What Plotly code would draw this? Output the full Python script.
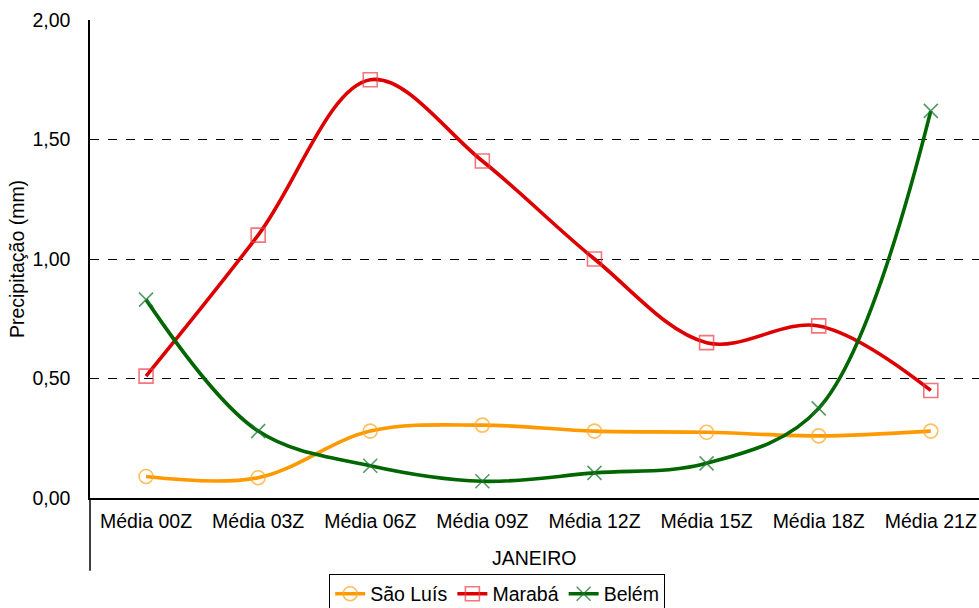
import plotly.graph_objects as go

categorias = ["Média 00Z", "Média 03Z", "Média 06Z", "Média 09Z",
              "Média 12Z", "Média 15Z", "Média 18Z", "Média 21Z"]
sao_luis = [0.09, 0.085, 0.28, 0.305, 0.28, 0.275, 0.26, 0.28]
maraba = [0.51, 1.10, 1.75, 1.41, 1.00, 0.65, 0.72, 0.45]
belem = [0.83, 0.28, 0.135, 0.07, 0.105, 0.145, 0.375, 1.62]
y_ticks = [0, 0.5, 1.0, 1.5, 2.0]
y_tick_labels = ["0,00", "0,50", "1,00", "1,50", "2,00"]

FONT = "Liberation Sans, Arial, sans-serif"
FS = 19.5

series = [
    ("São Luís", sao_luis, "#FF9900", "rgba(255,170,40,0.75)", "circle-open"),
    ("Marabá", maraba, "#DD0000", "rgba(235,60,70,0.7)", "square-open"),
    ("Belém", belem, "#006600", "rgba(30,120,50,0.75)", "x-thin-open"),
]

fig = go.Figure()
for name, vals, line_c, mark_c, sym in series:
    fig.add_trace(go.Scatter(
        x=list(range(len(categorias))), y=vals, name=name,
        mode="lines+markers",
        line=dict(color=line_c, width=3.6, shape="spline", smoothing=1.0),
        marker=dict(symbol=sym, size=14, color=mark_c,
                    line=dict(color=mark_c, width=1.6)),
    ))

fig.update_layout(
    width=979, height=608,
    margin=dict(l=90, r=0, t=20, b=110, autoexpand=False),
    paper_bgcolor="white", plot_bgcolor="white",
    font=dict(family=FONT, size=FS, color="black"),
    showlegend=True,
    legend=dict(orientation="h", x=0.458, xanchor="center", y=-0.158, yanchor="top",
                bordercolor="black", borderwidth=1, font=dict(size=FS),
                itemwidth=30, tracegroupgap=0),
)
fig.update_xaxes(
    range=[-0.5, 7.43], tickmode="array",
    tickvals=list(range(len(categorias))), ticktext=categorias,
    showgrid=False, zeroline=False, showline=True, linecolor="black", linewidth=1.5,
    ticks="", ticklabelstandoff=5, tickfont=dict(size=FS),
)
fig.update_yaxes(
    range=[0, 2.0], tickmode="array", tickvals=y_ticks, ticktext=y_tick_labels,
    showgrid=True, gridcolor="black", gridwidth=1, griddash="dash",
    zeroline=False, showline=True, linecolor="black", linewidth=1.5,
    ticks="", ticklabelstandoff=14, tickfont=dict(size=FS),
    title=dict(text="Precipitação (mm)", font=dict(size=FS), standoff=3),
)

# category-group border extending below the x axis
fig.add_shape(type="line", xref="paper", yref="paper", x0=0, x1=0, y0=0, y1=-0.152,
              line=dict(color="black", width=1.5))
fig.add_annotation(text="JANEIRO", xref="paper", yref="paper", x=0.5, y=-0.126,
                   showarrow=False, font=dict(size=FS), yanchor="middle")

fig.write_html("out.html")
